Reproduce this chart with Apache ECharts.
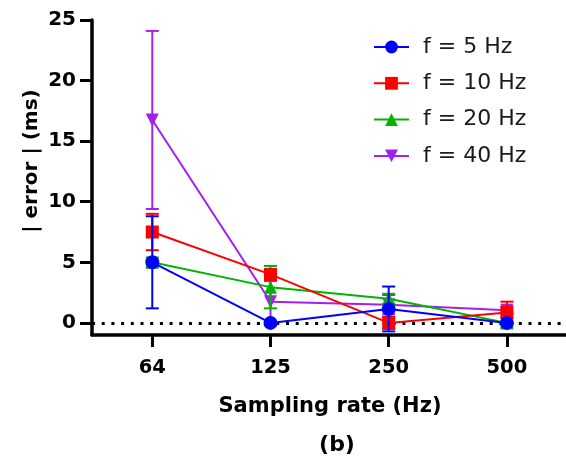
<!DOCTYPE html>
<html><head><meta charset="utf-8">
<script src="https://cdn.jsdelivr.net/npm/echarts@6/dist/echarts.min.js"></script>
<style>html,body{margin:0;padding:0;background:#fff}#c{width:566px;height:466px}</style>
</head><body><div id="c"></div>
<script>
const rates = ['64', '125', '250', '500'];
const names = ['f = 5 Hz', 'f = 10 Hz', 'f = 20 Hz', 'f = 40 Hz'];
const mean5 = [5.0, 0.0, 1.15, 0.0];
const err5 = [3.8, 0.0, 1.85, 0.0];
const mean10 = [7.5, 4.0, 0.0, 0.85];
const err10 = [1.5, 0.4, 0.5, 0.9];
const mean20 = [5.0, 2.95, 2.0, 0.0];
const err20 = [0.4, 1.75, 0.4, 0.4];
const mean40 = [16.75, 1.75, 1.5, 1.05];
const err40 = [7.35, 1.7, 0.8, 0.3];
const yTicks = [0, 5, 10, 15, 20, 25];
const xIdx = [0, 1, 2, 3];

const colors = ['#0000FF', '#FF0000', '#00B400', '#A020F0'];
const means = [mean5, mean10, mean20, mean40];
const errs = [err5, err10, err20, err40];
const symbols = ['circle', 'rect', 'triangle', 'path://M0,0 L10,0 L5,10 Z'];
const sizes = [14, 13, 13, 13];
const zs = [8, 6, 4, 2];

const FONT = 'DejaVu Sans';

function errSeries(k) {
  const color = colors[k];
  return {
    type: 'custom', z: zs[k], silent: true,
    data: means[k].map((m, i) => [i, m - errs[k][i], m + errs[k][i], errs[k][i]]),
    renderItem(params, api) {
      if (api.value(3) === 0) return null;
      const x = api.value(0);
      const lo = api.coord([x, api.value(1)]);
      const hi = api.coord([x, api.value(2)]);
      const hw = 6.5;
      const st = { stroke: color, lineWidth: 2 };
      return { type: 'group', children: [
        { type: 'line', shape: { x1: lo[0], y1: lo[1], x2: hi[0], y2: hi[1] }, style: st },
        { type: 'line', shape: { x1: lo[0] - hw, y1: lo[1], x2: lo[0] + hw, y2: lo[1] }, style: st },
        { type: 'line', shape: { x1: hi[0] - hw, y1: hi[1], x2: hi[0] + hw, y2: hi[1] }, style: st }
      ]};
    }
  };
}

const series = [];
for (let k = 0; k < 4; k++) {
  series.push(errSeries(k));
  const s = {
    type: 'line', name: names[k], z: zs[k] + 1,
    data: means[k].map((m, i) => [i, m]),
    symbol: symbols[k], symbolSize: sizes[k], showAllSymbol: true,
    itemStyle: { color: colors[k] },
    lineStyle: { color: colors[k], width: 2 },
    emphasis: { disabled: true }, animation: false
  };
  if (k === 3) {
    s.markLine = {
      silent: true, symbol: 'none', label: { show: false },
      lineStyle: { color: '#000', width: 3, type: [3, 6.7] },
      data: [{ yAxis: 0 }], animation: false
    };
  }
  series.push(s);
}

const chart = echarts.init(document.getElementById('c'), null, { renderer: 'canvas' });
chart.setOption({
  animation: false,
  backgroundColor: '#fff',
  grid: { left: 92, right: -3, top: 20, bottom: 131, containLabel: false },
  xAxis: {
    type: 'value', min: -0.51, max: 3.5,
    splitLine: { show: false },
    axisLine: { onZero: false, lineStyle: { color: '#000', width: 3.5 } },
    axisTick: { show: true, length: 12, lineStyle: { color: '#000', width: 3 }, customValues: xIdx },
    axisLabel: { customValues: xIdx, formatter: v => rates[Math.round(v)], margin: 23,
      fontFamily: FONT, fontWeight: 'bold', fontSize: 19.5, color: '#000' }
  },
  yAxis: {
    type: 'value', min: -1.0, max: 25,
    splitLine: { show: false },
    axisLine: { show: true, onZero: false, lineStyle: { color: '#000', width: 3.5 } },
    axisTick: { show: true, length: 12, lineStyle: { color: '#000', width: 3 }, customValues: yTicks },
    axisLabel: { customValues: yTicks, margin: 16,
      fontFamily: FONT, fontWeight: 'bold', fontSize: 20, color: '#000' }
  },
  legend: {
    orient: 'vertical', left: 368, top: 31,
    data: names, itemWidth: 35, itemHeight: 16, itemGap: 14.3,
    textStyle: { fontFamily: FONT, fontSize: 22, color: '#1a1a1a', lineHeight: 22, padding: [0, 0, 0, 9] }
  },
  graphic: [
    { type: 'text', x: 32, y: 161, rotation: Math.PI / 2,
      style: { text: '| error | (ms)', font: 'bold 20px "DejaVu Sans"', fill: '#000', textAlign: 'center', textVerticalAlign: 'middle' } },
    { type: 'text', x: 330, y: 407,
      style: { text: 'Sampling rate (Hz)', font: 'bold 21px "DejaVu Sans"', fill: '#000', textAlign: 'center', textVerticalAlign: 'middle' } },
    { type: 'text', x: 337, y: 445,
      style: { text: '(b)', font: 'bold 22px "DejaVu Sans"', fill: '#000', textAlign: 'center', textVerticalAlign: 'middle' } }
  ],
  series: series
});
</script>
</body></html>
